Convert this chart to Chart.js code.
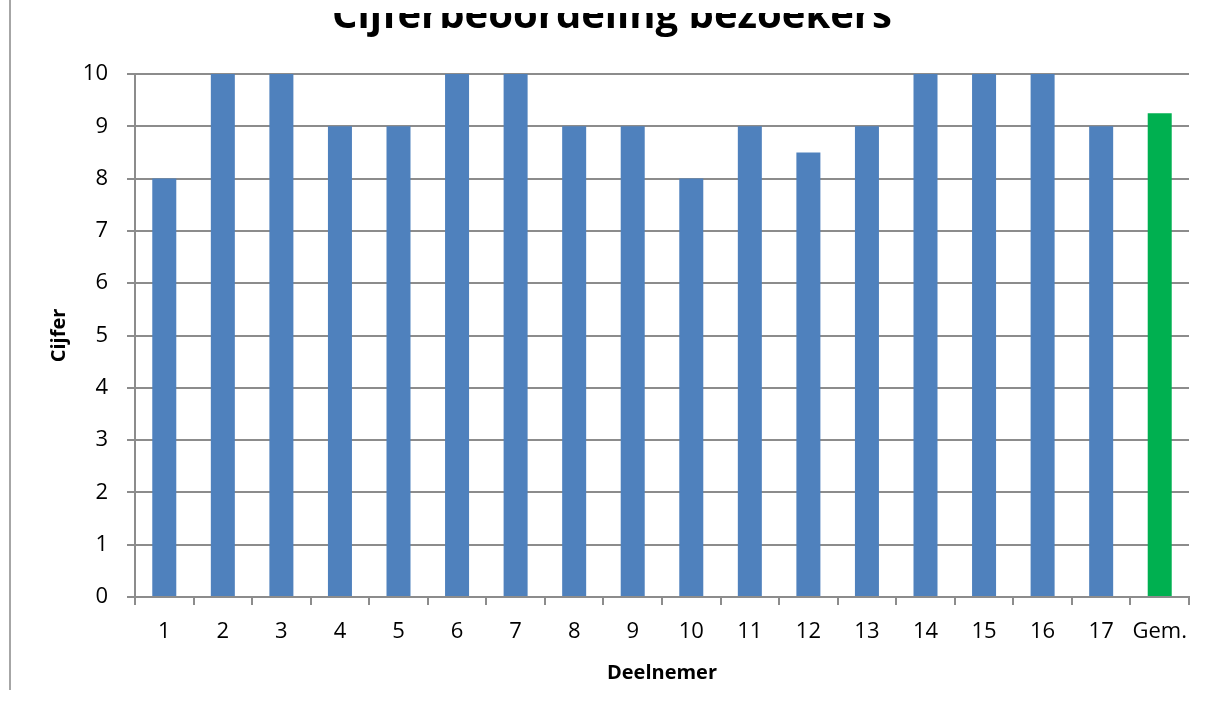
<!DOCTYPE html>
<html>
<head>
<meta charset="utf-8">
<script src="https://cdn.jsdelivr.net/npm/chart.js@4"></script>
<style>
    html, body { margin: 0; padding: 0; background: #fff; }
    #wrap { width: 1214px; height: 711px; position: relative; }
</style>
</head>
<body>
<div id="wrap"><canvas id="gradeChart" width="1214" height="711"></canvas></div>
<script>
const labels = ["1", "2", "3", "4", "5", "6", "7", "8", "9", "10", "11", "12", "13", "14", "15", "16", "17", "Gem."];
const grades = [8, 10, 10, 9, 9, 10, 10, 9, 9, 8, 9, 8.5, 9, 10, 10, 10, 9, 9.25];
const yTicks = [0, 1, 2, 3, 4, 5, 6, 7, 8, 9, 10];
const chartTitle = "Cijferbeoordeling bezoekers";

const BLUE = "#4F81BD";
const GREEN = "#00B050";
const GRID = "#8c8c8c";
const FONT = "'Open Sans', 'Liberation Sans', sans-serif";

// title is clipped at the top in the original, so draw it by hand
const decorPlugin = {
    id: "decor",
    afterDraw(chart) {
        const ctx = chart.ctx;
        ctx.save();
        ctx.beginPath();
        ctx.rect(0, 13, chart.width, 40);
        ctx.clip();
        ctx.fillStyle = "#000";
        ctx.font = "bold 40px " + FONT;
        ctx.textAlign = "center";
        ctx.textBaseline = "alphabetic";
        ctx.fillText(chartTitle, 612, 28);
        ctx.restore();

        ctx.save();
        ctx.strokeStyle = "#a6a6a6";
        ctx.lineWidth = 2;
        ctx.beginPath();
        ctx.moveTo(10, 0);
        ctx.lineTo(10, 690);
        ctx.stroke();
        ctx.restore();
    }
};

new Chart(document.getElementById("gradeChart"), {
    type: "bar",
    data: {
        labels: labels,
        datasets: [{
            data: grades,
            backgroundColor: labels.map((l, i) => i === labels.length - 1 ? GREEN : BLUE),
            barPercentage: 0.41,
            categoryPercentage: 1
        }]
    },
    options: {
        responsive: false,
        animation: false,
        layout: { padding: { left: 40, right: 25, top: 74, bottom: 20 } },
        plugins: {
            legend: { display: false },
            tooltip: { enabled: false }
        },
        scales: {
            x: {
                afterFit: s => { s.height = 94; },
                border: { color: GRID, width: 2 },
                grid: { offset: true, drawOnChartArea: false, color: GRID, lineWidth: 2, tickLength: 8 },
                ticks: { color: "#000", font: { family: FONT, size: 22 }, padding: 14, maxRotation: 0 },
                title: {
                    display: true, text: "Deelnemer", color: "#000",
                    font: { family: FONT, size: 20, weight: "bold" },
                    padding: { top: 0, bottom: 6 }
                }
            },
            y: {
                min: 0,
                max: 10,
                afterFit: s => { s.width = 95; },
                afterBuildTicks: s => { s.ticks = yTicks.map(v => ({ value: v })); },
                border: { color: GRID, width: 2 },
                grid: { color: GRID, lineWidth: 2, tickLength: 8 },
                ticks: { color: "#000", font: { family: FONT, size: 22 }, padding: 19 },
                title: {
                    display: true, text: "Cijfer", color: "#000",
                    font: { family: FONT, size: 20, weight: "bold" },
                    padding: { top: 7, bottom: 0 }
                }
            }
        }
    },
    plugins: [decorPlugin]
});
</script>
</body>
</html>
